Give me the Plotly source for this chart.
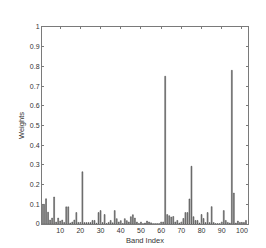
import plotly.graph_objects as go

bands = list(range(1, 103))
weights = [
    0.100, 0.100, 0.128, 0.060, 0.020, 0.030, 0.137, 0.010, 0.030, 0.015,
    0.020, 0.008, 0.087, 0.087, 0.005, 0.010, 0.020, 0.058, 0.008, 0.008,
    0.265, 0.007, 0.007, 0.007, 0.007, 0.018, 0.018, 0.004, 0.058, 0.068,
    0.007, 0.048, 0.003, 0.008, 0.018, 0.006, 0.068, 0.027, 0.010, 0.017,
    0.003, 0.027, 0.017, 0.010, 0.037, 0.047, 0.030, 0.010, 0.003, 0.010,
    0.002, 0.005, 0.015, 0.010, 0.006, 0.002, 0.002, 0.002, 0.002, 0.010,
    0.010, 0.750, 0.048, 0.042, 0.035, 0.038, 0.010, 0.018, 0.005, 0.010,
    0.028, 0.058, 0.058, 0.127, 0.293, 0.037, 0.018, 0.018, 0.005, 0.048,
    0.028, 0.007, 0.058, 0.007, 0.088, 0.007, 0.002, 0.002, 0.002, 0.010,
    0.068, 0.018, 0.008, 0.005, 0.780, 0.157, 0.005, 0.015, 0.008, 0.008,
    0.008, 0.018,
]
x_ticks = [10, 20, 30, 40, 50, 60, 70, 80, 90, 100]
y_ticks = [0, 0.1, 0.2, 0.3, 0.4, 0.5, 0.6, 0.7, 0.8, 0.9, 1]
y_tick_text = ["0", "0.1", "0.2", "0.3", "0.4", "0.5", "0.6", "0.7", "0.8", "0.9", "1"]

fig = go.Figure(go.Bar(
    x=bands, y=weights,
    marker=dict(color="#8c8c8c", line=dict(color="#3a3a3a", width=0.5)),
))

axis_common = dict(
    showline=True, linecolor="#7a7a7a", linewidth=1, mirror="ticks",
    ticks="inside", ticklen=2, tickcolor="#7a7a7a", tickwidth=1,
    showgrid=False, zeroline=False,
    tickfont=dict(family="Liberation Sans, Arial, sans-serif", size=7, color="#333333"),
)

fig.update_layout(
    width=266, height=248,
    margin=dict(l=34, r=26, t=19, b=28),
    paper_bgcolor="white", plot_bgcolor="white",
    showlegend=False, bargap=0.55,
    font=dict(family="Liberation Sans, Arial, sans-serif", size=7, color="#333333"),
    xaxis=dict(range=[1, 103], tickvals=x_ticks,
               title=dict(text="Band Index", standoff=4,
                          font=dict(size=7.5, color="#333333")),
               **axis_common),
    yaxis=dict(range=[0, 1], tickvals=y_ticks, ticktext=y_tick_text,
               title=dict(text="Weights", standoff=4,
                          font=dict(size=7.5, color="#333333")),
               **axis_common),
)

fig.write_html("out.html")
